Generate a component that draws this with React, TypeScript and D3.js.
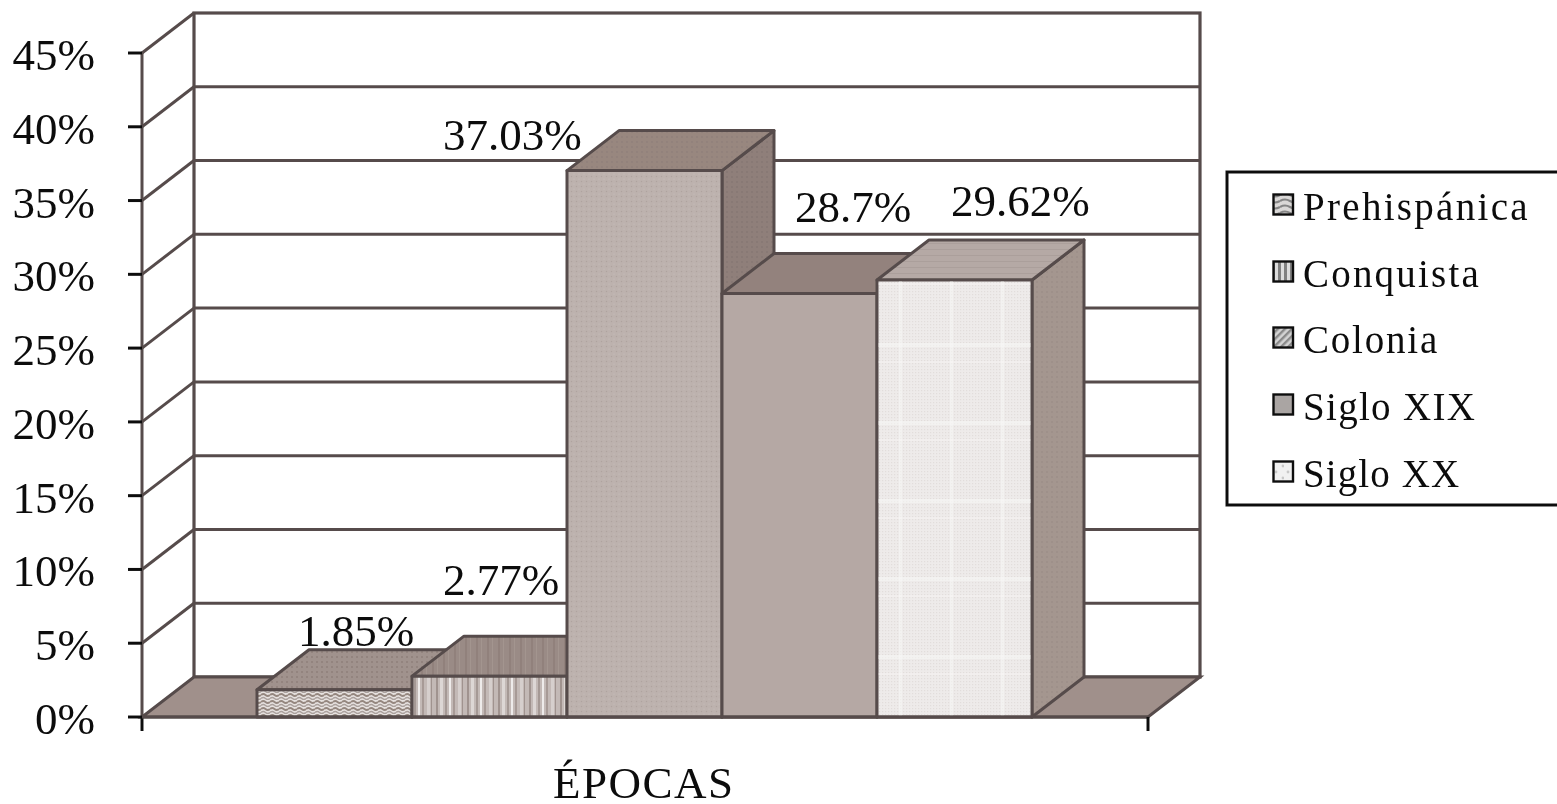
import React from "react";
import * as d3 from "d3";

const categories = ["Prehispánica", "Conquista", "Colonia", "Siglo XIX", "Siglo XX"];
const values = [1.85, 2.77, 37.03, 28.7, 29.62];
const valueLabels = ["1.85%", "2.77%", "37.03%", "28.7%", "29.62%"];
const ticks = [0, 5, 10, 15, 20, 25, 30, 35, 40, 45];
const legendSpacing = [2.3, 2.2, 1.8, 1.3, 1.1];
const legendBaselines = [220, 287, 353, 420, 487];
const labelAnchors: [number, number][] = [[298, 646], [443, 595], [443, 150], [795, 222], [951, 216]];
const frontFills = ["url(#wave)", "url(#stripes)", "url(#dots)", "url(#plain)", "url(#plaid)"];
const topFills = ["url(#topDots)", "url(#topStripes)", "url(#topDots2)", "#93827d", "url(#topLight)"];
const sideFills = ["#9a8a85", "#9a8a85", "url(#sideDots)", "#93827d", "url(#sideLight)"];
const swatchFills = ["url(#legWave)", "url(#legStripes)", "url(#legDiag)", "#aaa5a3", "url(#legDots)"];

const FONT = "'Liberation Serif', 'Times New Roman', serif";
const LINE = "#564c4b";
const DX = 52;
const DY = -40;

const y = d3.scaleLinear().domain([0, 45]).range([717, 53]);
const x = d3.scaleBand<string>().domain(categories).range([257, 1032]);
const xLeft = 142;
const xRight = 1148;
const poly = (pts: [number, number][]) => d3.line()(pts) + "Z";

export default function App() {
  const y0 = y(0);
  return (
    <svg width={1557} height={804} style={{ position: "fixed", left: 0, top: 0, display: "block", background: "#fff" }}>
      <defs>
        <pattern id="wave" width="9" height="7" patternUnits="userSpaceOnUse">
          <rect width="9" height="7" fill="#e6e1df" />
          <path d="M0 2 Q2.25 0 4.5 2 T9 2" fill="none" stroke="#95877f" strokeWidth="1.8" />
          <path d="M0 5.5 Q2.25 3.5 4.5 5.5 T9 5.5" fill="none" stroke="#aaa09c" strokeWidth="1.4" />
        </pattern>
        <pattern id="stripes" width="31" height="10" patternUnits="userSpaceOnUse">
          <rect width="31" height="10" fill="#c3b9b6" />
          <rect x="2" width="2" height="10" fill="#a0938f" />
          <rect x="6" width="3" height="10" fill="#ddd7d5" />
          <rect x="11" width="2" height="10" fill="#a59995" />
          <rect x="15" width="2" height="10" fill="#eeebea" />
          <rect x="19" width="2" height="10" fill="#a79a96" />
          <rect x="24" width="3" height="10" fill="#d6cfcd" />
          <rect x="28" width="1" height="10" fill="#a0938f" />
        </pattern>
        <pattern id="dots" width="5" height="5" patternUnits="userSpaceOnUse">
          <rect width="5" height="5" fill="#bdb2ae" />
          <circle cx="1.5" cy="1.5" r="0.7" fill="#afa39f" />
          <circle cx="4" cy="4" r="0.6" fill="#c9c0bd" />
        </pattern>
        <pattern id="plain" width="5" height="5" patternUnits="userSpaceOnUse">
          <rect width="5" height="5" fill="#b5a8a4" />
        </pattern>
        <pattern id="plaid" width="3" height="3" patternUnits="userSpaceOnUse">
          <rect width="3" height="3" fill="#eeebea" />
          <rect width="1.2" height="1.2" fill="#e2dddb" />
        </pattern>
        <pattern id="plaidLines" width="51" height="78" patternUnits="userSpaceOnUse" patternTransform="translate(877 281)">
          <rect x="22" width="3" height="78" fill="#f8f7f6" fillOpacity="0.55" />
          <rect y="2" width="51" height="2" fill="#f8f7f6" fillOpacity="0.35" />
          <rect y="62" width="51" height="4" fill="#f8f7f6" fillOpacity="0.55" />
        </pattern>
        <pattern id="topDots" width="5" height="5" patternUnits="userSpaceOnUse">
          <rect width="5" height="5" fill="#a0928d" />
          <circle cx="2" cy="2" r="1" fill="#8f7f7a" />
        </pattern>
        <pattern id="topStripes" width="11" height="10" patternUnits="userSpaceOnUse">
          <rect width="11" height="10" fill="#9a8b86" />
          <rect x="3" width="2" height="10" fill="#91817c" />
          <rect x="8" width="1" height="10" fill="#a3958f" />
        </pattern>
        <pattern id="topDots2" width="5" height="5" patternUnits="userSpaceOnUse">
          <rect width="5" height="5" fill="#98877f" />
          <circle cx="2" cy="2" r="0.9" fill="#8f7f79" />
        </pattern>
        <pattern id="sideDots" width="5" height="5" patternUnits="userSpaceOnUse">
          <rect width="5" height="5" fill="#8f7f7a" />
          <circle cx="2" cy="2" r="0.9" fill="#857672" />
        </pattern>
        <pattern id="topLight" width="6" height="6" patternUnits="userSpaceOnUse">
          <rect width="6" height="6" fill="#b5a9a5" />
          <rect y="3" width="6" height="1" fill="#ab9f9b" />
        </pattern>
        <pattern id="sideLight" width="5" height="5" patternUnits="userSpaceOnUse">
          <rect width="5" height="5" fill="#a4968f" />
          <circle cx="2" cy="2" r="0.9" fill="#9b8d88" />
        </pattern>
        <pattern id="legWave" width="20" height="6" patternUnits="userSpaceOnUse">
          <rect width="20" height="6" fill="#dad8d7" />
          <path d="M0 3 Q5 0 10 3 T20 3" fill="none" stroke="#858585" strokeWidth="2.2" />
        </pattern>
        <pattern id="legStripes" width="6" height="6" patternUnits="userSpaceOnUse">
          <rect width="6" height="6" fill="#dcdcdc" />
          <rect x="0" width="3" height="6" fill="#808080" />
        </pattern>
        <pattern id="legDiag" width="5" height="5" patternUnits="userSpaceOnUse" patternTransform="rotate(45)">
          <rect width="5" height="5" fill="#d4d4d4" />
          <rect width="2.4" height="5" fill="#8a8a8a" />
        </pattern>
        <pattern id="legDots" width="12" height="12" patternUnits="userSpaceOnUse">
          <rect width="12" height="12" fill="#f1f1f1" />
          <circle cx="4" cy="4" r="1.4" fill="#c8c8c8" />
          <circle cx="11" cy="10" r="1.4" fill="#c8c8c8" />
        </pattern>
        <filter id="soft" x="-2%" y="-2%" width="104%" height="104%">
          <feGaussianBlur stdDeviation="0.45" />
        </filter>
      </defs>

      <g filter="url(#soft)">
        <rect x={xLeft + DX} y={y(45) + DY} width={xRight - xLeft} height={y0 - y(45)} fill="#fff" stroke={LINE} strokeWidth={3.2} />
        {ticks.slice(1).map((t) => (
          <g key={t}>
            <line x1={xLeft} y1={y(t)} x2={xLeft + DX} y2={y(t) + DY} stroke={LINE} strokeWidth={3} />
            {t < 45 && <line x1={xLeft + DX} y1={y(t) + DY} x2={xRight + DX} y2={y(t) + DY} stroke={LINE} strokeWidth={3} />}
          </g>
        ))}
        <path
          d={poly([[xLeft, y0], [xRight, y0], [xRight + DX, y0 + DY], [xLeft + DX, y0 + DY]])}
          fill="#a0908b"
          stroke={LINE}
          strokeWidth={3}
        />
        {categories.map((c, i) => {
          const l = x(c)!;
          const r = l + x.bandwidth();
          const t = y(values[i]);
          return (
            <g key={c} stroke={LINE} strokeWidth={3} strokeLinejoin="round">
              <path d={poly([[r, t], [r + DX, t + DY], [r + DX, y0 + DY], [r, y0]])} fill={sideFills[i]} />
              <path d={poly([[l, t], [l + DX, t + DY], [r + DX, t + DY], [r, t]])} fill={topFills[i]} />
              <rect x={l} y={t} width={x.bandwidth()} height={y0 - t} fill={frontFills[i]} />
              {i === 4 && <rect x={l + 1.5} y={t + 1.5} width={x.bandwidth() - 3} height={y0 - t - 3} fill="url(#plaidLines)" stroke="none" />}
            </g>
          );
        })}
        <line x1={xLeft} y1={y(45)} x2={xLeft} y2={y0} stroke={LINE} strokeWidth={3} />
        <line x1={xLeft} y1={y0} x2={xLeft} y2={y0 + 14} stroke="#111" strokeWidth={3} />
        <line x1={xLeft} y1={y0} x2={xRight} y2={y0} stroke={LINE} strokeWidth={3.2} />
        <line x1={xRight} y1={y0} x2={xRight} y2={y0 + 14} stroke="#111" strokeWidth={3} />
        {ticks.map((t) => (
          <line key={t} x1={xLeft - 14} y1={y(t)} x2={xLeft} y2={y(t)} stroke="#111" strokeWidth={3} />
        ))}
        <rect x={1227} y={172} width={340} height={333} fill="#fff" stroke="#111" strokeWidth={3} />
        {categories.map((c, i) => (
          <rect
            key={c}
            x={1273.5}
            y={legendBaselines[i] - 25.5}
            width={19.5}
            height={20}
            fill={swatchFills[i]}
            stroke="#111"
            strokeWidth={2.4}
          />
        ))}
      </g>

      <g fontFamily={FONT} fill="#0c0c0c" style={{ filter: "blur(0.3px)" }}>
        {ticks.map((t) => (
          <text key={t} x={95} y={y(t) + 17} fontSize={45} textAnchor="end">{t}%</text>
        ))}
        {valueLabels.map((s, i) => (
          <text key={s} x={labelAnchors[i][0]} y={labelAnchors[i][1]} fontSize={45}>{s}</text>
        ))}
        {categories.map((c, i) => (
          <text key={c} x={1303} y={legendBaselines[i]} fontSize={39} letterSpacing={legendSpacing[i]}>{c}</text>
        ))}
        <text x={553} y={798} fontSize={45} letterSpacing={1.5}>ÉPOCAS</text>
      </g>
    </svg>
  );
}
